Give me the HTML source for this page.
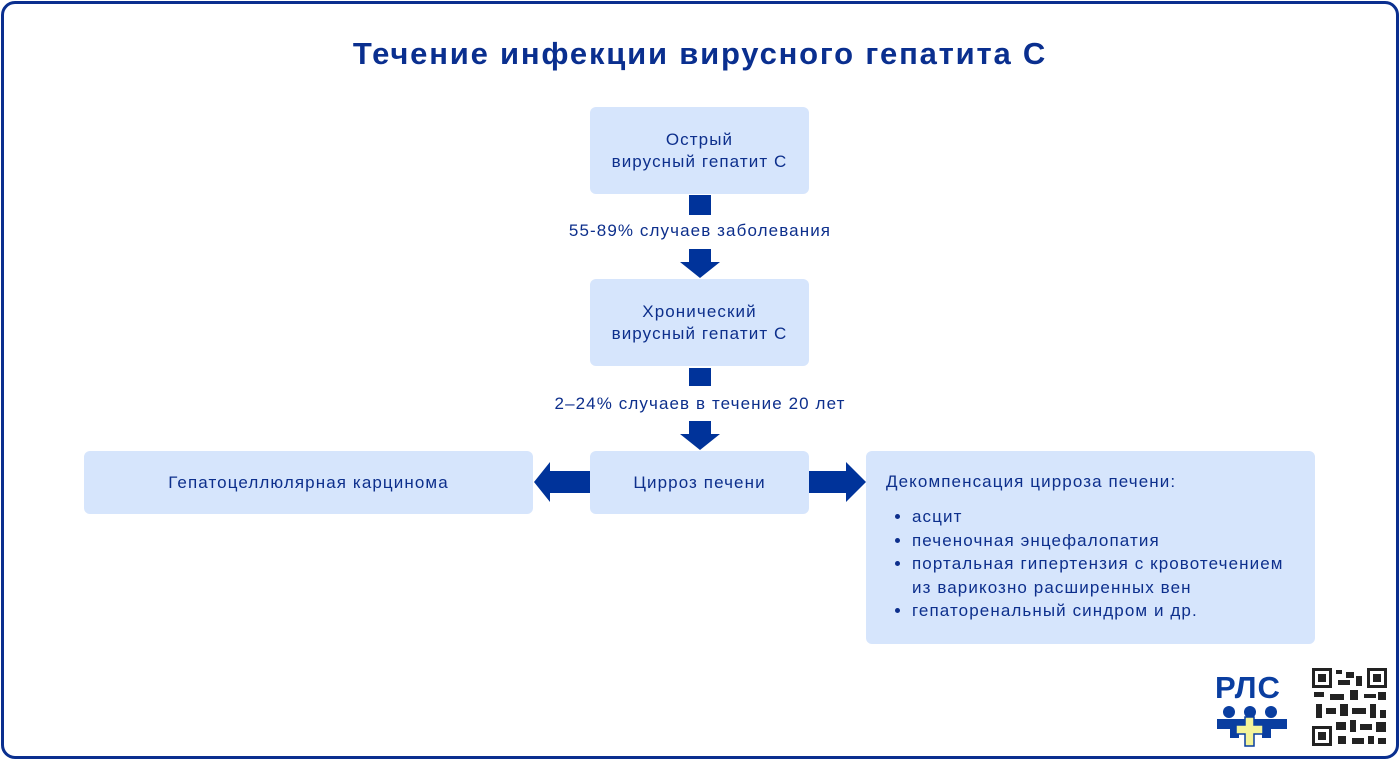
<!DOCTYPE html>
<html><head><meta charset="utf-8"><style>
body{margin:0;width:1400px;height:760px;background:#fff;font-family:"Liberation Sans","DejaVu Sans",sans-serif;position:relative;overflow:hidden}
.frame{position:absolute;left:1px;top:1px;width:1392px;height:752px;border:3px solid #0a2f8f;border-radius:14px}
.t{position:absolute;left:0;width:1400px;top:36px;text-align:center;font-weight:bold;font-size:31px;letter-spacing:1.8px;color:#0a2f8f}
.b{position:absolute;background:#d6e5fc;border-radius:6px;color:#0d2f8c;font-size:17px;letter-spacing:1.1px;display:flex;align-items:center;justify-content:center;text-align:center;line-height:22px}
.lbl{position:absolute;left:450px;width:500px;text-align:center;color:#0d2f8c;font-size:17px;letter-spacing:1.1px}
ul{margin:12px 0 0 0;padding-left:26px;line-height:23.5px}
li{padding-left:0}
</style></head><body>
<div class="frame"></div>
<div class="t">Течение инфекции вирусного гепатита С</div>
<div class="b" style="left:590px;top:107px;width:219px;height:87px">Острый<br>вирусный гепатит С</div>
<div class="b" style="left:590px;top:279px;width:219px;height:87px">Хронический<br>вирусный гепатит С</div>
<div class="b" style="left:590px;top:451px;width:219px;height:63px">Цирроз печени</div>
<div class="b" style="left:84px;top:451px;width:449px;height:63px">Гепатоцеллюлярная карцинома</div>
<div class="b" style="left:866px;top:451px;width:449px;height:193px;display:block;text-align:left;padding:20px 0 0 20px;box-sizing:border-box">Декомпенсация цирроза печени:
<ul><li>асцит</li><li>печеночная энцефалопатия</li><li>портальная гипертензия с кровотечением<br>из варикозно расширенных вен</li><li>гепаторенальный синдром и др.</li></ul></div>
<div class="lbl" style="top:221px">55-89% случаев заболевания</div>
<div class="lbl" style="top:394px">2–24% случаев в течение 20 лет</div>
<svg width="1400" height="760" style="position:absolute;left:0;top:0">
<g fill="#00339a">
<rect x="689" y="195" width="22" height="20"/>
<polygon points="689,249 711,249 711,262 720,262 700,278 680,262 689,262"/>
<rect x="689" y="368" width="22" height="18"/>
<polygon points="689,421 711,421 711,434 720,434 700,450 680,434 689,434"/>
<polygon points="590,471 550,471 550,462 534,482 550,502 550,493 590,493"/>
<polygon points="809,471 846,471 846,462 866,482 846,502 846,493 809,493"/>
</g>
<text x="1215" y="698" font-family="Liberation Sans" font-weight="bold" font-size="31" letter-spacing="1" fill="#0a3ea0">РЛС</text>
<g fill="#0a3ea0"><circle cx="1229" cy="712" r="6"/><circle cx="1250" cy="712" r="6"/><circle cx="1271" cy="712" r="6"/>
<rect x="1217" y="719" width="70" height="10"/><rect x="1230" y="729" width="9" height="9"/><rect x="1262" y="729" width="9" height="9"/></g>
<path d="M1245 717h9v8h9v9h-9v12h-9v-12h-9v-9h9z" fill="#f4f49a" stroke="#0a3ea0" stroke-width="1.5"/>
<rect x="1312" y="668" width="75" height="78" fill="#fff"/>
<g fill="#222"><rect x="1312" y="668" width="20" height="20"/><rect x="1367" y="668" width="20" height="20"/><rect x="1312" y="726" width="20" height="20"/></g>
<g fill="#fff"><rect x="1315" y="671" width="14" height="14"/><rect x="1370" y="671" width="14" height="14"/><rect x="1315" y="729" width="14" height="14"/></g>
<g fill="#222"><rect x="1318" y="674" width="8" height="8"/><rect x="1373" y="674" width="8" height="8"/><rect x="1318" y="732" width="8" height="8"/>
<rect x="1336" y="670" width="6" height="4"/><rect x="1346" y="672" width="8" height="6"/><rect x="1338" y="680" width="12" height="5"/><rect x="1356" y="676" width="6" height="10"/>
<rect x="1314" y="692" width="10" height="5"/><rect x="1330" y="694" width="14" height="6"/><rect x="1350" y="690" width="8" height="10"/><rect x="1364" y="694" width="12" height="4"/><rect x="1378" y="692" width="8" height="8"/>
<rect x="1316" y="704" width="6" height="14"/><rect x="1326" y="708" width="10" height="6"/><rect x="1340" y="704" width="8" height="12"/><rect x="1352" y="708" width="14" height="6"/><rect x="1370" y="704" width="6" height="14"/><rect x="1380" y="710" width="6" height="8"/>
<rect x="1336" y="722" width="10" height="8"/><rect x="1350" y="720" width="6" height="12"/><rect x="1360" y="724" width="12" height="6"/><rect x="1376" y="722" width="10" height="10"/>
<rect x="1338" y="736" width="8" height="8"/><rect x="1352" y="738" width="12" height="6"/><rect x="1368" y="736" width="6" height="8"/><rect x="1378" y="738" width="8" height="6"/></g>
</svg>
</body></html>
